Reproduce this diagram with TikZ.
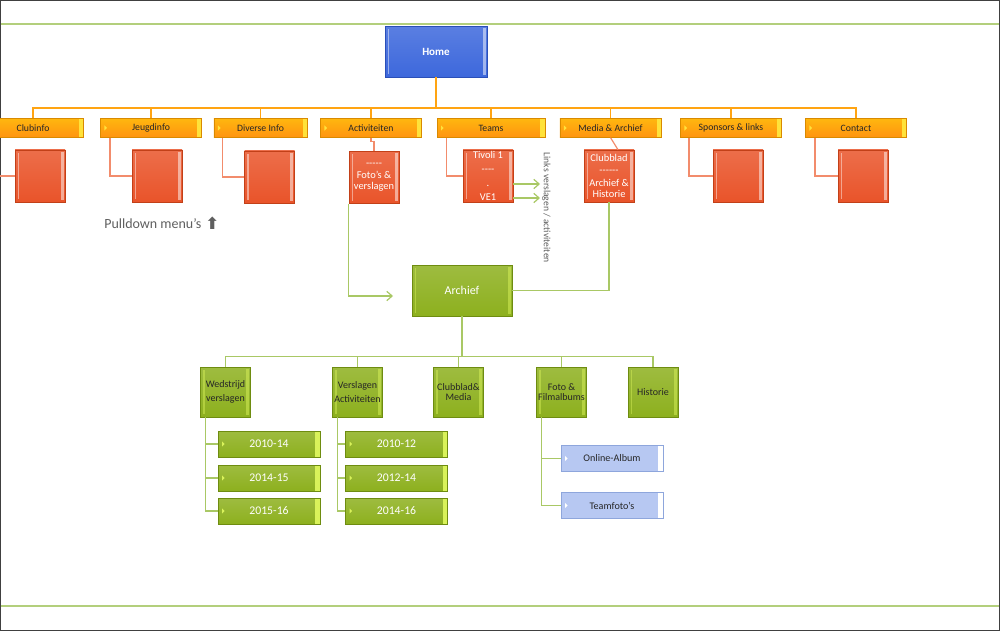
\documentclass[tikz,border=0pt]{standalone}
\usepackage{fontspec}
\setmainfont{Carlito}
\newfontfamily\symbolfont{DejaVu Sans}
\usetikzlibrary{arrows.meta, positioning}

\definecolor{homeblue}{HTML}{3D68DC}
\definecolor{homedark}{HTML}{2A4FB8}
\definecolor{menuorange}{HTML}{FFA412}
\definecolor{menudark}{HTML}{D98A00}
\definecolor{capyellow}{HTML}{FFE23A}
\definecolor{subred}{HTML}{E9542A}
\definecolor{subdark}{HTML}{C24018}
\definecolor{subline}{HTML}{F28C6C}
\definecolor{archgreen}{HTML}{8DB01E}
\definecolor{archdark}{HTML}{6E8C10}
\definecolor{archline}{HTML}{A9C865}
\definecolor{capgreen}{HTML}{D9F25A}
\definecolor{albumblue}{HTML}{B7C8F2}
\definecolor{albumdark}{HTML}{8EA6DC}
\definecolor{labelgray}{HTML}{5F5F5F}
\definecolor{rulegreen}{HTML}{B3CF7C}
\definecolor{framegray}{HTML}{404040}

\begin{document}
\begin{tikzpicture}[x=0.75pt, y=-0.75pt,
    bevel/.style={path picture={
      \fill[#1, opacity=0.45] ([shift={(2pt,-2pt)}]path picture bounding box.north west) rectangle ([shift={(3.2pt,2pt)}]path picture bounding box.south west);
      \fill[#1, opacity=0.5] ([shift={(-1pt,-1.5pt)}]path picture bounding box.north east) rectangle ([shift={(-3.2pt,1.5pt)}]path picture bounding box.south east);
    }},
    capped/.style={path picture={
      \fill[#1] ([xshift=-3.5pt]path picture bounding box.north east) rectangle (path picture bounding box.south east);
      \fill[#1] ([shift={(3pt,2pt)}]path picture bounding box.west) -- ++(2pt,-2pt) -- ++(-2pt,-2pt) -- cycle;
    }},
    homebox/.style={draw=homedark, top color=homeblue!85!white, bottom color=homeblue, text=white,
      font=\bfseries\fontsize{8.3}{10}\selectfont, minimum width=76.5pt, minimum height=38pt, inner sep=0pt, bevel=white},
    menubar/.style={draw=menudark, top color=menuorange!80!yellow, bottom color=menuorange!90!red, text=black!85,
      font=\fontsize{7.3}{8}\selectfont, minimum width=76pt, minimum height=14pt, inner sep=0pt, capped=capyellow},
    submenu/.style={draw=subdark, top color=subred!85!white, bottom color=subred, text=white,
      font=\fontsize{7.8}{10.5}\selectfont, align=center, minimum width=37.5pt, minimum height=39pt, inner sep=0pt, bevel=white},
    archbox/.style={draw=archdark, top color=archgreen!85!white, bottom color=archgreen, text=white,
      font=\fontsize{9}{10}\selectfont, minimum width=75pt, minimum height=38pt, inner sep=0pt, bevel=capgreen},
    topicbox/.style={draw=archdark, top color=archgreen!85!white, bottom color=archgreen, text=black!85,
      font=\fontsize{7.5}{10.5}\selectfont, align=center, minimum width=37.5pt, minimum height=37.5pt, inner sep=0pt, bevel=capgreen},
    yearbar/.style={draw=archdark, top color=archgreen!85!white, bottom color=archgreen, text=white,
      font=\fontsize{8.8}{9}\selectfont, minimum width=76.5pt, minimum height=19.5pt, inner sep=0pt, capped=capgreen},
    albumbar/.style={draw=albumdark, fill=albumblue, text=black!85,
      font=\fontsize{7.6}{8}\selectfont, minimum width=76.5pt, minimum height=19.5pt, inner sep=0pt, capped=white},
    menuline/.style={draw=menuorange, line width=0.9pt},
    subline/.style={draw=subline, line width=0.9pt},
    archline/.style={draw=archline, line width=0.9pt},
  ]
    \useasboundingbox (0,0) rectangle (1000,631);
    \clip (0,0) rectangle (1000,631);

    % Page frame and rules
    \draw[rulegreen, line width=0.9pt] (0,24) -- (1000,24);
    \draw[rulegreen, line width=0.9pt] (0,606) -- (1000,606);
    \draw[framegray, line width=0.9pt] (0.6,0.6) rectangle (999.4,630.4);

    % Home
    \node[homebox] (home) at (436,51.5) {Home};

    % Menu bar
    \node[menubar] (clubinfo) at (33,128) {Clubinfo};
    \node[menubar] (jeugdinfo) at (151,128) {Jeugdinfo};
    \node[menubar, minimum width=70pt] (diverse) at (260.5,128) {Diverse Info};
    \node[menubar] (activiteiten) at (371,128) {Activiteiten};
    \node[menubar, minimum width=81pt] (teams) at (491,128) {Teams};
    \node[menubar] (media) at (610.5,128) {Media \& Archief};
    \node[menubar] (sponsors) at (731,128) {Sponsors \& links};
    \node[menubar] (contact) at (856,128) {Contact};

    % Home to menu bar
    \draw[menuline, line width=1.3pt] (home.south) -- ++(0,31) coordinate (menubus);
    \draw[menuline] (menubus) -| (clubinfo.north);
    \draw[menuline] (menubus) -| (jeugdinfo.north);
    \draw[menuline] (menubus) -| (diverse.north);
    \draw[menuline] (menubus) -| (activiteiten.north);
    \draw[menuline] (menubus) -| (teams.north);
    \draw[menuline] (menubus) -| (media.north);
    \draw[menuline] (menubus) -| (sponsors.north);
    \draw[menuline] (menubus) -| (contact.north);

    % Pulldown boxes
    \node[submenu] (clubsub) at (40,176) {};
    \node[submenu] (jeugdsub) at (157,176) {};
    \node[submenu] (diversesub) at (269.5,177) {};
    \node[submenu, font=\fontsize{7.8}{8.6}\selectfont] (activsub) at (374,177.5) {-{}-{}-{}-{}-\\Foto's \&\\verslagen};
    \node[submenu] (teamssub) at (488,176) {Tivoli 1\\-{}-{}-{}-\\.\\VE1};
    \node[submenu, font=\fontsize{7.8}{9.4}\selectfont] (mediasub) at (609,176) {Clubblad\\-{}-{}-{}-{}-{}-\\Archief \&\\[-1pt]Historie};
    \node[submenu] (sponsorsub) at (738,176) {};
    \node[submenu] (contactsub) at (863,176) {};

    \draw[subline] ([xshift=7.5pt]clubinfo.south west) |- (clubsub.west);
    \draw[subline] ([xshift=7.5pt]jeugdinfo.south west) |- (jeugdsub.west);
    \draw[subline] ([xshift=6.75pt]diverse.south west) |- (diversesub.west);
    \draw[subline] (activiteiten.south) -- ++(0,4) -| (activsub.north);
    \draw[subline] ([xshift=7.5pt]teams.south west) |- (teamssub.west);
    \draw[subline] (media.south) -- ([xshift=6.75pt]mediasub.north);
    \draw[subline] ([xshift=6.75pt]sponsors.south west) |- (sponsorsub.west);
    \draw[subline] ([xshift=7.5pt]contact.south west) |- (contactsub.west);

    % Links from Teams
    \coordinate (linkA) at (540,184);
    \coordinate (linkB) at (540,198);
    \draw[archline, -{Straight Barb[length=4pt, width=7pt]}] (teamssub.east |- linkA) -- (linkA);
    \draw[archline, -{Straight Barb[length=4pt, width=7pt]}] (teamssub.east |- linkB) -- (linkB);
    \node[rotate=-90, anchor=west, text=labelgray, font=\fontsize{7.2}{8}\selectfont] (linkslabel) at (546.5,148) {Links verslagen / activiteiten};

    \node[anchor=west, text=labelgray, font=\fontsize{10.5}{12}\selectfont, inner sep=0pt] (pulldown) at (104,223) {Pulldown menu’s\hspace{3pt}{\symbolfont\bfseries\fontsize{12.5}{12}\selectfont\raisebox{-0.5pt}{⬆}}};

    % Archief
    \node[archbox] (archief) at (462,290.5) {Archief};
    \coordinate (archin) at (393,296);
    \draw[archline, -{Straight Barb[length=4pt, width=7pt]}] (activsub.south west) |- (archin);
    \draw[archline] (archief.east) -| (mediasub.south);

    % Archief topics
    \node[topicbox] (wedstrijd) at (225.5,392) {Wedstrijd\\verslagen};
    \node[topicbox] (verslagen) at (357.5,392) {Verslagen\\Activiteiten};
    \node[topicbox, font=\fontsize{7.5}{8}\selectfont] (clubblad) at (458.5,392) {Clubblad\&\\Media};
    \node[topicbox, font=\fontsize{7.5}{8}\selectfont] (foto) at (561.5,392) {Foto \&\\Filmalbums};
    \node[topicbox] (historie) at (653,392) {Historie};

    \draw[archline] (archief.south) -- ++(0,40) coordinate (archbus);
    \draw[archline] (archbus) -| (wedstrijd.north);
    \draw[archline] (archbus) -| (verslagen.north);
    \draw[archline] (archbus) -| (clubblad.north);
    \draw[archline] (archbus) -| (foto.north);
    \draw[archline] (archbus) -| (historie.north);

    % Years
    \node[yearbar] (wedA) at (269,444) {2010-14};
    \node[yearbar] (wedB) at (269,478) {2014-15};
    \node[yearbar] (wedC) at (269,511) {2015-16};
    \node[yearbar] (verA) at (396.5,444) {2010-12};
    \node[yearbar] (verB) at (396.5,478) {2012-14};
    \node[yearbar] (verC) at (396.5,511) {2014-16};

    \draw[archline] ([xshift=3.75pt]wedstrijd.south west) |- (wedA.west);
    \draw[archline] ([xshift=3.75pt]wedstrijd.south west) |- (wedB.west);
    \draw[archline] ([xshift=3.75pt]wedstrijd.south west) |- (wedC.west);
    \draw[archline] ([xshift=3.75pt]verslagen.south west) |- (verA.west);
    \draw[archline] ([xshift=3.75pt]verslagen.south west) |- (verB.west);
    \draw[archline] ([xshift=3.75pt]verslagen.south west) |- (verC.west);

    % Albums
    \node[albumbar] (online) at (612,458.5) {Online-Album};
    \node[albumbar] (teamfoto) at (612,505.5) {Teamfoto's};

    \draw[archline] ([xshift=3.75pt]foto.south west) |- (online.west);
    \draw[archline] ([xshift=3.75pt]foto.south west) |- (teamfoto.west);
\end{tikzpicture}
\end{document}
